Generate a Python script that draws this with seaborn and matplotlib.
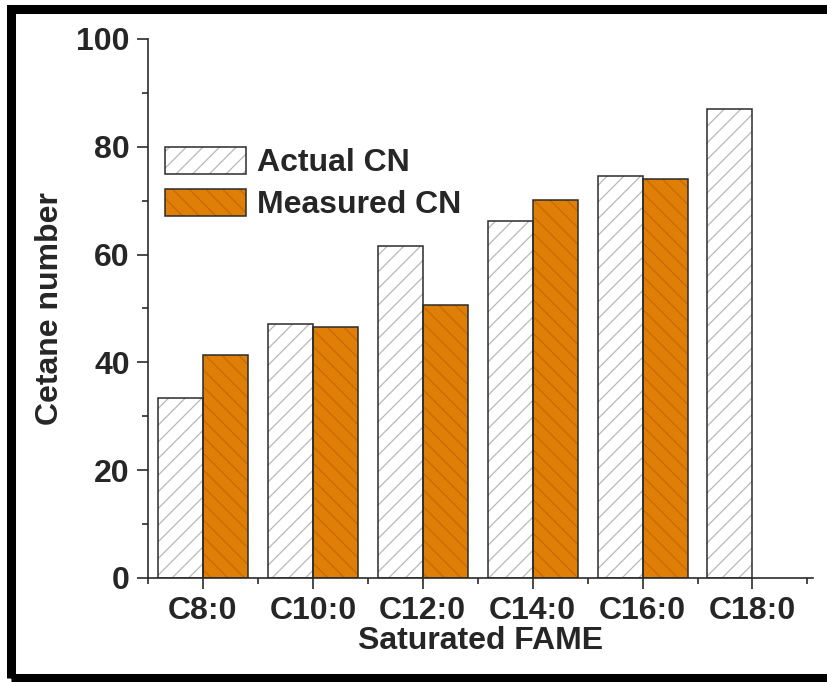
import numpy as np
import pandas as pd
import matplotlib
matplotlib.use("Agg")
import matplotlib.pyplot as plt
import seaborn as sns
from matplotlib.patches import Rectangle, Patch
from matplotlib.legend_handler import HandlerTuple
from matplotlib.ticker import MultipleLocator, FixedLocator

# data
fames = ["C8:0", "C10:0", "C12:0", "C14:0", "C16:0", "C18:0"]
actual_cn = [33.4, 47.2, 61.5, 66.3, 74.5, 86.9]
measured_cn = [41.3, 46.6, 50.6, 70.1, 74.0, np.nan]
series = ["Actual CN", "Measured CN"]

df = pd.DataFrame({
    "FAME": fames * 2,
    "CN": actual_cn + measured_cn,
    "Series": [series[0]] * len(fames) + [series[1]] * len(fames),
})

sns.set_style("ticks")
plt.rcParams["font.family"] = ["Liberation Sans", "DejaVu Sans"]
plt.rcParams["font.weight"] = "bold"
plt.rcParams["hatch.linewidth"] = 0.9

face = {"Actual CN": "white", "Measured CN": "#E07F08"}
hatchcol = {"Actual CN": "#B8B8B8", "Measured CN": "#C46A00"}
hatches = {"Actual CN": "//", "Measured CN": "\\\\"}
edge = "#2b2b2b"

fig = plt.figure(figsize=(8.27, 6.82), dpi=100)
ax = fig.add_axes([0.179, 0.1525, 0.804, 0.7905])

sns.barplot(data=df, x="FAME", y="CN", hue="Series", hue_order=series,
            palette=face, width=0.82, ax=ax, legend=False, linewidth=0,
            saturation=1)

# hatch fill, then outline on top
for cont, s in zip(ax.containers, series):
    for p in cont.patches:
        if np.isnan(p.get_height()) or p.get_height() == 0:
            continue
        p.set_hatch(hatches[s])
        p.set_edgecolor(hatchcol[s])
        p.set_linewidth(0)
        ax.add_patch(Rectangle(p.get_xy(), p.get_width(), p.get_height(),
                               fill=False, edgecolor=edge, lw=1.1, zorder=3))

ax.set_xlim(-0.5, 5.55)
ax.set_ylim(0, 100)
ax.yaxis.set_major_locator(MultipleLocator(20))
ax.yaxis.set_minor_locator(MultipleLocator(10))
ax.xaxis.set_minor_locator(FixedLocator(np.arange(-0.5, 6, 1)))
sns.despine(ax=ax)
for sp in ["left", "bottom"]:
    ax.spines[sp].set_linewidth(1.2)
    ax.spines[sp].set_color(edge)

ax.tick_params(axis="both", which="major", length=8, width=1.2, color=edge,
               labelsize=23, pad=5, direction="out")
ax.tick_params(axis="both", which="minor", length=4.5, width=1.2, color=edge,
               direction="out")
for lab in ax.get_xticklabels() + ax.get_yticklabels():
    lab.set_fontweight("bold")

ax.set_xlabel("Saturated FAME", fontsize=23, fontweight="bold", labelpad=0)
ax.set_ylabel("Cetane number", fontsize=23, fontweight="bold", labelpad=8)

handles = []
for s in series:
    h1 = Patch(facecolor=face[s], edgecolor=hatchcol[s], hatch=hatches[s], lw=0)
    h2 = Patch(facecolor="none", edgecolor=edge, lw=1.1)
    handles.append((h1, h2))
ax.legend(handles, series, handler_map={tuple: HandlerTuple(ndivide=1, pad=0)},
          loc="upper left", bbox_to_anchor=(0.025, 0.80), frameon=False,
          borderpad=0, borderaxespad=0, handlelength=2.55, handleheight=0.95,
          handletextpad=0.35, labelspacing=0.32,
          prop={"size": 23, "weight": "bold"})

# outer black frame of the figure
fig.patches.append(Rectangle((0.0135, 0.0055), 1.2, 0.9815, transform=fig.transFigure,
                             fill=False, edgecolor="black", lw=6.5, zorder=10))

fig.savefig("out.png", dpi=100)
